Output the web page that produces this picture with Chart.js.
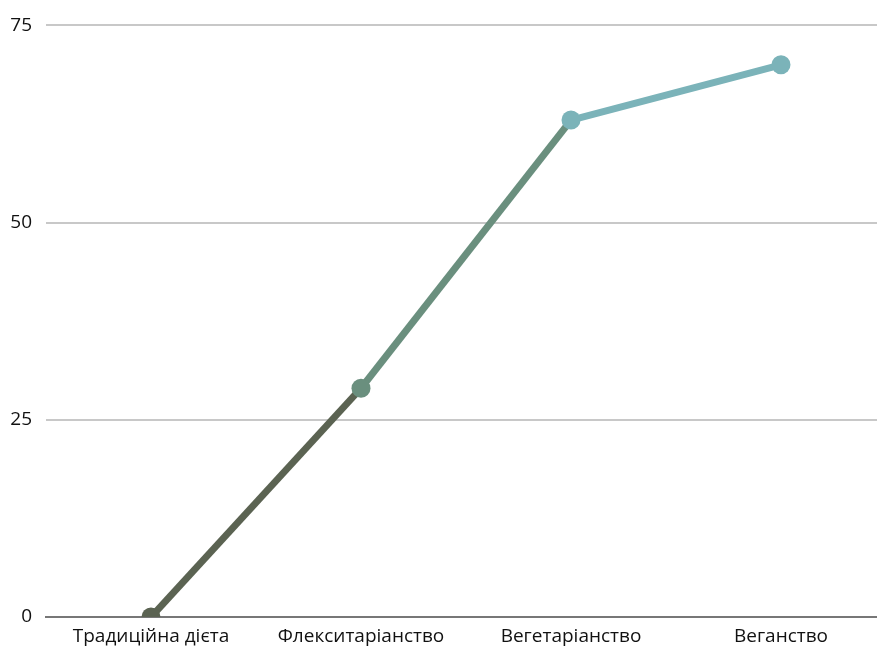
<!DOCTYPE html>
<html>
<head>
<meta charset="utf-8">
<script src="https://cdn.jsdelivr.net/npm/chart.js@4"></script>
<style>
  html, body { margin: 0; padding: 0; background: #fff; overflow: hidden; }
  #wrap { width: 877px; height: 648px; overflow: hidden; position: relative; }
  #dietChart { display: block; }
</style>
</head>
<body>
<div id="wrap"><canvas id="dietChart" width="886" height="648"></canvas></div>
<script>
// Chart data
const categories = ['Традиційна дієта', 'Флекситаріанство', 'Вегетаріанство', 'Веганство'];
const values = [0, 29, 63, 70];
const pointColors = ['#5b6352', '#6a8f7e', '#7bb3b9', '#7bb3b9'];
const yTicks = [0, 25, 50, 75];

function createChart() {
    const ctx = document.getElementById('dietChart').getContext('2d');
    new Chart(ctx, {
        type: 'line',
        data: {
            labels: categories,
            datasets: [{
                data: values,
                borderWidth: 7,
                borderColor: pointColors[0],
                pointRadius: 9.5,
                pointHoverRadius: 9.5,
                pointBorderWidth: 0,
                pointBackgroundColor: pointColors,
                tension: 0,
                segment: {
                    // each segment takes the colour of its starting point
                    borderColor: c => pointColors[c.p0DataIndex]
                }
            }]
        },
        options: {
            responsive: false,
            animation: false,
            layout: { autoPadding: false, padding: { top: 20, right: 0, left: 0, bottom: 0 } },
            plugins: {
                legend: { display: false },
                tooltip: { enabled: false }
            },
            scales: {
                x: {
                    offset: true,
                    afterFit: axis => { axis.height = 31; },
                    grid: { display: false, drawTicks: false },
                    border: { display: true, color: '#777777', width: 2 },
                    ticks: {
                        color: '#111111',
                        padding: 8,
                        font: { family: 'Open Sans', size: 19 }
                    }
                },
                y: {
                    min: 0,
                    max: 75,
                    afterBuildTicks: axis => { axis.ticks = yTicks.map(v => ({ value: v })); },
                    afterFit: axis => { axis.width = 46; },
                    grid: { color: '#c8c8c8', lineWidth: 2, drawTicks: false },
                    border: { display: false },
                    ticks: {
                        color: '#111111',
                        padding: 14,
                        font: { family: 'Open Sans', size: 19 }
                    }
                }
            }
        }
    });
}

createChart();
</script>
</body>
</html>
